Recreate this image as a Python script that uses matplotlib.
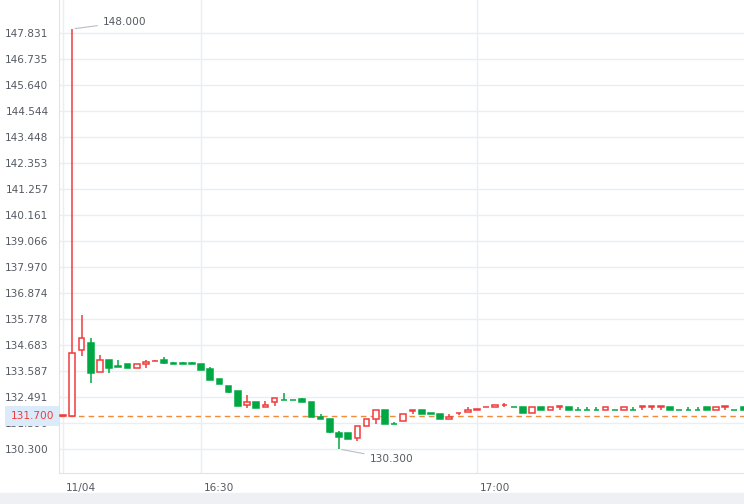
import matplotlib
matplotlib.use("Agg")
import matplotlib.pyplot as plt
from matplotlib.patches import Rectangle
from matplotlib.transforms import ScaledTranslation

# one-minute candles, 16:15 .. 17:28
opens = [131.70, 131.70, 134.47, 134.76, 133.53, 134.04, 133.78, 133.87, 133.73, 133.87, 134.00,
         134.04, 133.89, 133.89, 133.89, 133.88, 133.67, 133.25, 132.95, 132.76, 132.14,
         132.27, 132.06, 132.27, 132.37, 132.37, 132.39, 132.28, 131.63, 131.55, 130.96,
         130.97, 130.75, 131.26, 131.55, 131.93, 131.36, 131.47, 131.92, 131.93, 131.80,
         131.79, 131.55, 131.81, 131.84, 131.96, 132.05, 132.08, 132.14, 132.06, 132.08,
         131.83, 132.08, 131.94, 132.07, 132.08, 131.95, 131.95, 131.95, 131.94, 131.95,
         131.94, 131.95, 132.07, 132.07, 132.07, 132.08, 131.95, 131.95, 131.95, 132.08,
         131.94, 132.07, 131.95, 132.08]
closes = [131.70, 134.33, 134.96, 133.52, 134.04, 133.73, 133.76, 133.73, 133.87, 133.96, 134.02,
          133.92, 133.88, 133.88, 133.88, 133.64, 133.22, 133.05, 132.71, 132.13, 132.27,
          132.04, 132.15, 132.44, 132.36, 132.36, 132.27, 131.63, 131.55, 131.02, 130.82,
          130.73, 131.27, 131.55, 131.93, 131.34, 131.35, 131.77, 131.93, 131.76, 131.79,
          131.55, 131.63, 131.82, 131.93, 131.97, 132.06, 132.15, 132.15, 132.05, 131.83,
          132.08, 131.94, 132.08, 132.08, 131.94, 131.94, 131.94, 131.94, 132.08, 131.94,
          132.08, 131.94, 132.08, 132.08, 132.08, 131.94, 131.94, 131.94, 131.94, 131.94,
          132.08, 132.08, 131.94, 131.94]
highs = [131.70, 148.00, 135.95, 134.98, 134.26, 134.04, 134.04, 133.87, 133.87, 134.04, 134.04,
         134.16, 133.96, 133.96, 133.96, 133.88, 133.76, 133.25, 132.95, 132.76, 132.56,
         132.27, 132.31, 132.44, 132.65, 132.36, 132.44, 132.28, 131.77, 131.55, 131.06,
         130.97, 131.27, 131.55, 131.93, 131.93, 131.45, 131.77, 131.93, 131.93, 131.82,
         131.79, 131.79, 131.82, 132.07, 131.97, 132.06, 132.15, 132.25, 132.06, 132.08,
         132.08, 132.08, 132.08, 132.08, 132.08, 132.08, 132.08, 132.08, 132.08, 131.95,
         132.08, 132.08, 132.08, 132.08, 132.08, 132.08, 131.95, 132.08, 132.08, 132.08,
         132.08, 132.08, 131.95, 132.08]
lows = [131.70, 131.70, 134.23, 133.07, 133.53, 133.52, 133.76, 133.73, 133.73, 133.73, 134.00,
        133.87, 133.88, 133.88, 133.88, 133.64, 133.22, 133.05, 132.65, 132.13, 132.04,
        132.04, 132.06, 132.10, 132.36, 132.36, 132.27, 131.63, 131.55, 130.96, 130.30,
        130.73, 130.65, 131.26, 131.34, 131.34, 131.35, 131.47, 131.77, 131.76, 131.79,
        131.55, 131.55, 131.75, 131.84, 131.93, 132.05, 132.08, 132.06, 132.05, 131.83,
        131.83, 131.94, 131.94, 131.94, 131.94, 131.94, 131.94, 131.94, 131.94, 131.94,
        131.94, 131.94, 131.94, 131.94, 131.94, 131.94, 131.94, 131.94, 131.94, 131.94,
        131.94, 131.94, 131.94, 131.94]

tick_pos = [0, 15, 45]
tick_labels = ["11/04", "16:30", "17:00"]
y_ticks = [130.300 + k * 1.09569 for k in range(17)]
last_price = 131.700
max_price, max_idx = 148.000, 1
min_price, min_idx = 130.300, 30

RED = "#f03c3c"
GREEN = "#00a843"
GRID = "#e9eef4"
TXT = "#555a62"
FS = 7.6

fig = plt.figure(figsize=(7.44, 5.04), dpi=100)
fig.patches.append(Rectangle((0, 0), 1, 11 / 504, transform=fig.transFigure,
                             color="#eef0f3", zorder=0))
ax = fig.add_axes([59 / 744, 31 / 504, 685 / 744, 473 / 504])

w = 0.62
for i, (o, c, h, l) in enumerate(zip(opens, closes, highs, lows)):
    up = c >= o
    col = RED if up else GREEN
    lo, hi = min(o, c), max(o, c)
    ax.vlines(i, l, lo, color=col, lw=1.1, zorder=3)
    ax.vlines(i, hi, h, color=col, lw=1.1, zorder=3)
    body = max(hi - lo, 0.025)
    ax.add_patch(Rectangle((i - w / 2, lo), w, body, facecolor="white" if up else col,
                           edgecolor=col, lw=1.1, zorder=4))

ax.axhline(last_price, color="#f08a3c", lw=1, ls=(0, (4, 3)), zorder=2)

ax.set_xlim(-0.45, 74.05)
ax.set_ylim(129.29, 149.22)
ax.set_yticks(y_ticks)
ax.set_yticklabels([f"{v:.3f}" for v in y_ticks])
ax.set_xticks(tick_pos)
ax.set_xticklabels(tick_labels, ha="left")
ax.tick_params(axis="y", length=0, pad=7.5, labelsize=FS, labelcolor=TXT)
ax.tick_params(axis="x", length=0, pad=7, labelsize=FS, labelcolor=TXT)
shift = ScaledTranslation(3 / 100, 0, fig.dpi_scale_trans)
for lab in ax.get_xticklabels():
    lab.set_transform(lab.get_transform() + shift)
ax.grid(True, color=GRID, lw=1)
ax.set_axisbelow(True)
for s in ["top", "right"]:
    ax.spines[s].set_visible(False)
ax.spines["left"].set_color("#dfe4ea")
ax.spines["bottom"].set_color("#dfe4ea")

# last price tag
ax.annotate(f"{last_price:.3f}", xy=(0, last_price), xycoords=("axes fraction", "data"),
            xytext=(-35, 0), textcoords="offset points", ha="left", va="center",
            fontsize=FS, color=RED, annotation_clip=False, zorder=10,
            bbox=dict(boxstyle="square,pad=0.5", fc="#dcebfa", ec="none"))

# extreme labels
ax.annotate(f"{max_price:.3f}", xy=(max_idx, max_price), xytext=(22, 5),
            textcoords="offset points", fontsize=FS, color=TXT, va="center",
            arrowprops=dict(arrowstyle="-", color="#b8bec6", lw=0.8))
ax.annotate(f"{min_price:.3f}", xy=(min_idx, min_price), xytext=(22, -7),
            textcoords="offset points", fontsize=FS, color=TXT, va="center",
            arrowprops=dict(arrowstyle="-", color="#b8bec6", lw=0.8))

fig.savefig("out.png", dpi=100)
